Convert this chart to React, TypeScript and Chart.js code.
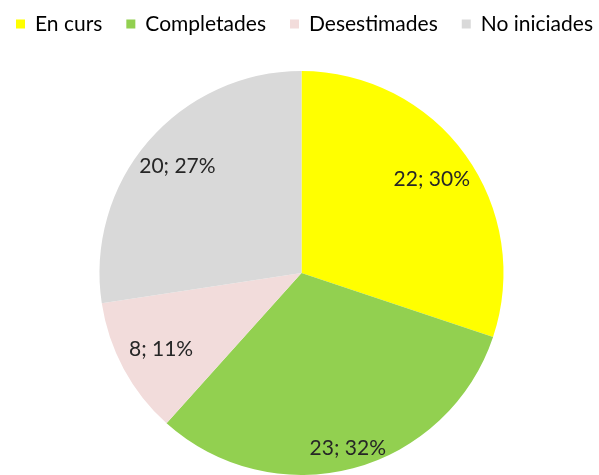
import React, { useEffect, useRef } from "react";
import { Chart, registerables } from "chart.js";

Chart.register(...registerables);

const categories = ["En curs", "Completades", "Desestimades", "No iniciades"];
const values = [22, 23, 8, 20];
const percentLabels = ["30%", "32%", "11%", "27%"];
const colors = ["#FFFF00", "#92D050", "#F2DCDB", "#D9D9D9"];
const labelRadius = [0.795, 0.897, 0.79, 0.81];

const FONT = "Lato, 'Open Sans', sans-serif";

const labelPlugin = {
  id: "sliceLabels",
  afterDatasetsDraw(chart: any) {
    const ctx = chart.ctx;
    const meta = chart.getDatasetMeta(0);
    ctx.save();
    ctx.font = `21px ${FONT}`;
    ctx.fillStyle = "#262626";
    ctx.textAlign = "center";
    ctx.textBaseline = "middle";
    meta.data.forEach((arc: any, i: number) => {
      const { x, y, startAngle, endAngle, outerRadius } = arc.getProps(
        ["x", "y", "startAngle", "endAngle", "outerRadius"],
        true
      );
      const mid = (startAngle + endAngle) / 2;
      const r = outerRadius * labelRadius[i];
      ctx.fillText(`${values[i]}; ${percentLabels[i]}`, x + Math.cos(mid) * r, y + Math.sin(mid) * r);
    });
    ctx.restore();
  },
};

const legendPlugin = {
  id: "topLegend",
  afterDraw(chart: any) {
    const ctx = chart.ctx;
    ctx.save();
    ctx.font = `21px ${FONT}`;
    ctx.textBaseline = "middle";
    ctx.textAlign = "left";
    let x = 16;
    const cy = 24;
    const box = 9;
    categories.forEach((label, i) => {
      ctx.fillStyle = colors[i];
      ctx.fillRect(x, cy - box / 2, box, box);
      ctx.fillStyle = "#000000";
      const tx = x + box + 10;
      ctx.fillText(label, tx, cy);
      x = tx + ctx.measureText(label).width + 24;
    });
    ctx.restore();
  },
};

export default function App() {
  const ref = useRef<HTMLCanvasElement>(null);
  useEffect(() => {
    document.body.style.margin = "0";
    const chart = new Chart(ref.current!, {
      type: "pie",
      data: {
        labels: categories,
        datasets: [
          {
            data: values,
            backgroundColor: colors,
            borderWidth: 0,
          },
        ],
      },
      options: {
        animation: false,
        responsive: false,
        maintainAspectRatio: false,
        layout: { padding: { top: 71, left: 4, right: 0, bottom: -4 } },
        plugins: {
          tooltip: { enabled: false },
          legend: { display: false },
        },
      },
      plugins: [labelPlugin, legendPlugin],
    });
    return () => chart.destroy();
  }, []);
  return (
    <div style={{ width: 599, height: 475, background: "#fff" }}>
      <canvas ref={ref} width={599} height={475} />
    </div>
  );
}
